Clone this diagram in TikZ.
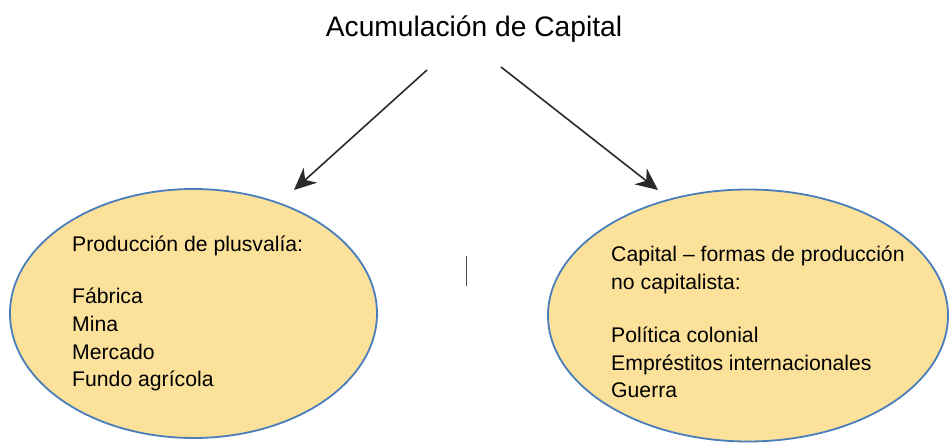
\documentclass[tikz,border=0pt]{standalone}
\usepackage{fontspec}
\setmainfont{Liberation Sans}
\usetikzlibrary{shapes.geometric,arrows.meta}
\definecolor{ellfill}{HTML}{FBE199}
\definecolor{elledge}{HTML}{4A7EBB}
\definecolor{arrowcol}{HTML}{2A2A2A}
\tikzset{
  bubble/.style={ellipse, draw=elledge, line width=1.8pt, fill=ellfill, inner sep=0pt},
  bodytext/.style={anchor=base west, align=left, inner sep=0pt,
    font=\fontsize{21.2pt}{27.9pt}\selectfont},
  titletext/.style={anchor=base, inner sep=0pt, font=\fontsize{28.2pt}{32pt}\selectfont},
  link/.style={draw=arrowcol, line width=1.6pt,
    -{Stealth[length=22pt, width=20pt, inset=7pt]}}
}
\begin{document}
\begin{tikzpicture}[x=1pt, y=-1pt]
\useasboundingbox (0,0) rectangle (951,443);
\node[titletext] (title) at (474,37) {Acumulación de Capital};
\node[bubble, minimum width=367pt, minimum height=249pt] (left) at (193.5,313.5) {};
\node[bubble, minimum width=400pt, minimum height=252pt] (right) at (748,315.5) {};
\node[bodytext] (lefttext) at (72,387) {Producción de plusvalía:\\[24pt]Fábrica\\Mina\\Mercado\\Fundo agrícola};
\node[bodytext] (righttext) at (611,398) {Capital – formas de producción\\no capitalista:\\[25pt]Política colonial\\Empréstitos internacionales\\Guerra};
\coordinate (ls) at (427,70);
\coordinate (lt) at (294,190);
\coordinate (rs) at (501,67);
\coordinate (rt) at (658,190);
\draw[link] (ls) -- (lt);
\draw[link] (rs) -- (rt);
\coordinate (bartop) at (466.5,256);
\coordinate (barbot) at (466.5,286);
\draw[draw=black!70, line width=1.8pt] (bartop) -- (barbot);
\end{tikzpicture}
\end{document}
